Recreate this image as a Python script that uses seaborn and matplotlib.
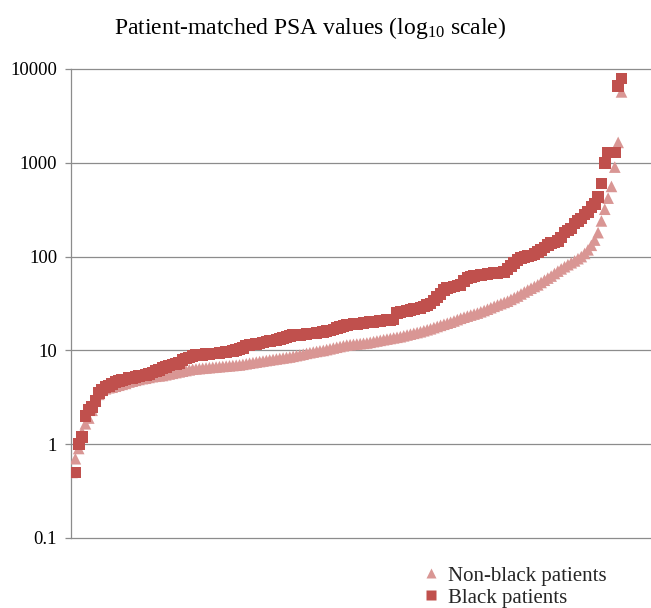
import numpy as np
import pandas as pd
import matplotlib
matplotlib.use("Agg")
import matplotlib.pyplot as plt
from matplotlib.lines import Line2D
import seaborn as sns

# ---- data (sorted PSA values) ----
black_psa = [
    0.5, 0.5, 1.0, 1.2, 2.0, 2.3, 2.5, 2.9, 3.5, 3.8,
    4.05, 4.2, 4.4, 4.6, 4.7, 4.8, 4.9, 5.05, 5.1, 5.2,
    5.3, 5.4, 5.45, 5.6, 5.8, 6.0, 6.2, 6.45, 6.7, 6.9,
    7.1, 7.2, 7.3, 7.9, 8.2, 8.4, 8.7, 8.9, 9.0, 9.0,
    9.1, 9.2, 9.3, 9.3, 9.4, 9.5, 9.6, 9.7, 9.9, 10.1,
    10.4, 10.6, 11.3, 11.5, 11.6, 11.7, 11.9, 12.1, 12.4, 12.6,
    12.8, 13.0, 13.2, 13.5, 13.8, 14.2, 14.5, 14.6, 14.7, 14.8,
    15.0, 15.1, 15.2, 15.3, 15.5, 15.7, 16.0, 16.3, 16.7, 17.2,
    17.8, 18.3, 18.6, 18.8, 19.0, 19.2, 19.4, 19.6, 19.8, 20.0,
    20.2, 20.4, 20.6, 20.8, 21.0, 21.1, 21.3, 25.0, 25.5, 26.0,
    26.5, 27.0, 27.5, 28.0, 28.5, 29.5, 30.5, 31.5, 34.0, 37.0,
    40.0, 44.0, 46.0, 47.0, 48.0, 49.0, 50.0, 55.0, 59.0, 61.0,
    62.0, 63.0, 64.0, 64.5, 65.0, 66.0, 66.5, 67.0, 68.0, 69.0,
    74.0, 80.0, 85.0, 92.0, 96.0, 99.0, 101.0, 103.0, 106.0, 112.0,
    118.0, 125.0, 132.0, 139.0, 142.0, 146.0, 160.0, 180.0, 190.0, 200.0,
    225.0, 240.0, 255.0, 280.0, 300.0, 340.0, 365.0, 430.0, 600.0, 1000.0,
    1290.0, 1290.0, 1290.0, 6600.0, 7900.0,
]
nonblack_psa = [
    0.5, 0.7, 0.9, 1.35, 1.65, 1.9, 2.3, 2.9, 3.4, 3.76,
    3.9, 4.0, 4.05, 4.15, 4.25, 4.35, 4.45, 4.6, 4.7, 4.8,
    4.9, 5.0, 5.05, 5.15, 5.25, 5.3, 5.35, 5.4, 5.5, 5.6,
    5.7, 5.8, 5.9, 6.0, 6.1, 6.2, 6.3, 6.35, 6.4, 6.45,
    6.5, 6.55, 6.6, 6.65, 6.7, 6.75, 6.8, 6.85, 6.9, 6.95,
    7.0, 7.1, 7.2, 7.3, 7.4, 7.5, 7.6, 7.7, 7.8, 7.9,
    8.0, 8.1, 8.2, 8.3, 8.4, 8.5, 8.65, 8.8, 8.95, 9.1,
    9.3, 9.45, 9.6, 9.75, 9.9, 10.0, 10.2, 10.4, 10.6, 10.8,
    11.0, 11.2, 11.4, 11.5, 11.6, 11.7, 11.8, 11.9, 12.0, 12.2,
    12.4, 12.6, 12.8, 13.0, 13.2, 13.4, 13.6, 13.8, 14.0, 14.3,
    14.6, 14.9, 15.2, 15.5, 15.8, 16.2, 16.6, 17.0, 17.5, 18.0,
    18.5, 19.0, 19.5, 20.0, 20.6, 21.3, 22.0, 22.6, 23.2, 23.8,
    24.4, 25.0, 25.8, 26.6, 27.5, 28.5, 29.5, 30.5, 31.5, 32.5,
    33.5, 35.0, 36.5, 38.0, 40.0, 42.0, 44.0, 46.0, 48.0, 50.0,
    53.0, 56.0, 59.0, 62.0, 66.0, 70.0, 74.0, 78.0, 82.0, 86.0,
    90.0, 95.0, 100.0, 108.0, 118.0, 132.0, 150.0, 180.0, 240.0, 320.0,
    420.0, 560.0, 900.0, 1650.0, 5700.0,
]
series_names = ["Non-black patients", "Black patients"]
series_colors = ["#D99694", "#C0504D"]
series_markers = ["^", "s"]
y_ticks = [0.1, 1, 10, 100, 1000, 10000]
y_tick_labels = ["0.1", "1", "10", "100", "1000", "10000"]
title_text = r"Patient-matched PSA values (log$_{10}$ scale)"

# ---- build table ----
df = pd.concat([
    pd.DataFrame({"idx": np.arange(len(nonblack_psa)), "psa": nonblack_psa,
                  "group": series_names[0]}),
    pd.DataFrame({"idx": np.arange(len(black_psa)), "psa": black_psa,
                  "group": series_names[1]}),
], ignore_index=True)

sns.set_theme(style="white")
plt.rcParams["font.family"] = ["Liberation Serif", "DejaVu Serif"]
plt.rcParams["mathtext.fontset"] = "custom"
plt.rcParams["mathtext.rm"] = "Liberation Serif"
plt.rcParams["mathtext.it"] = "Liberation Serif:italic"
plt.rcParams["mathtext.bf"] = "Liberation Serif:bold"

fig = plt.figure(figsize=(6.51, 6.08), dpi=100)
ax = fig.add_axes([71 / 651, (608 - 538) / 608, (651 - 71) / 651, (538 - 69) / 608])

grid_color = "#8C8C8C"
for yv in y_ticks[1:-1]:
    ax.axhline(yv, color=grid_color, lw=0.9, zorder=0)

sns.scatterplot(
    data=df, x="idx", y="psa", hue="group", style="group",
    palette=dict(zip(series_names, series_colors)),
    markers=dict(zip(series_names, series_markers)),
    s=70, linewidth=0, legend=False, ax=ax, zorder=3,
)

ax.set_yscale("log")
ax.set_ylim(y_ticks[0], y_ticks[-1])
ax.set_xlim(-0.3, 172.8)
ax.set_yticks(y_ticks)
ax.set_yticklabels(y_tick_labels)
ax.yaxis.set_minor_locator(matplotlib.ticker.NullLocator())
ax.set_xticks([])
ax.set_xlabel("")
ax.set_ylabel("")
ax.tick_params(axis="y", which="major", length=4, width=0.9, color=grid_color,
               left=True, pad=6, labelsize=13.5, labelcolor="black")

for side in ["left", "top", "bottom"]:
    ax.spines[side].set_visible(True)
    ax.spines[side].set_color(grid_color)
    ax.spines[side].set_linewidth(0.9)
ax.spines["right"].set_visible(False)

fig.text(310 / 651, 1 - 28 / 608, title_text, ha="center", va="center",
         fontsize=17, color="black")

handles = [Line2D([0], [0], marker=m, color="none", markerfacecolor=c,
                  markeredgecolor="none", markersize=7)
           for m, c in zip(series_markers, series_colors)]
fig.legend(handles, series_names, loc="upper left",
           bbox_to_anchor=(423 / 651, 1 - 566 / 608), frameon=False,
           fontsize=15, handlelength=0.8, handletextpad=0.4,
           labelspacing=0.12, borderpad=0, borderaxespad=0)

fig.savefig("out.png", dpi=100)
